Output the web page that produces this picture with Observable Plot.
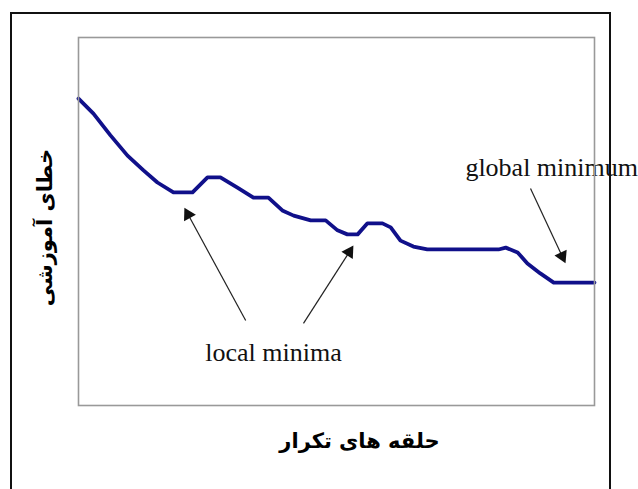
<!DOCTYPE html>
<html><head><meta charset="utf-8">
<script src="https://cdn.jsdelivr.net/npm/d3@7"></script>
<script src="https://cdn.jsdelivr.net/npm/@observablehq/plot@0.6"></script>
<style>body{margin:0;background:#fff}#chart svg{display:block}</style>
</head><body><div id="chart"></div>
<script>
// Training error curve (iteration %, error %)
const iterations = [0,2.9,6.2,9.5,12.6,15.3,18.4,22.1,25.0,27.5,30.8,33.9,36.8,39.5,41.7,45.0,47.9,50.2,52.1,54.1,56.0,58.9,60.5,62.4,64.9,67.6,81.4,82.8,85.1,87.0,89.5,92.1,100];
const errors =     [83.4,79.3,73.4,67.9,63.9,60.6,57.9,57.9,62.0,62.0,59.2,56.5,56.5,53.0,51.6,50.3,50.3,47.6,46.5,46.5,49.5,49.5,48.4,44.8,43.2,42.4,42.4,42.9,41.6,38.6,35.9,33.4,33.4];
// Annotation arrows (tail -> head)
const arrowTailX = [32.4, 43.6, 87.6];
const arrowTailY = [23.1, 22.3, 59.0];
const arrowHeadX = [20.5, 53.3, 94.4];
const arrowHeadY = [53.8, 43.5, 38.6];
// Annotation labels
const annotationText = ["local minima", "global minimum"];
const annotationX = [37.8, 91.7];
const annotationY = [14.4, 64.7];
const xTitle = "حلقه های تکرار";
const yTitle = "خطای آموزشی";

const curve = iterations.map((x, i) => ({x, y: errors[i]}));
const labels = annotationText.map((t, i) => ({t, x: annotationX[i], y: annotationY[i]}));

const W = 638, H = 489;
const baseOpts = {
  width: W, height: H,
  marginLeft: 78, marginRight: 44, marginTop: 37, marginBottom: 84,
  x: {domain: [0, 100], axis: null},
  y: {domain: [0, 100], axis: null},
  style: {background: "#fff", overflow: "visible"}
};

// first pass to get the scales
const probe = Plot.plot({...baseOpts, marks: [Plot.dot(curve, {x: "x", y: "y"})]});
const xs = probe.scale("x"), ys = probe.scale("y");
const X = d3.scaleLinear(xs.domain, xs.range);
const Y = d3.scaleLinear(ys.domain, ys.range);

const headLen = 12;
const arrowMarks = [];
arrowTailX.forEach((_, i) => {
  const px1 = X(arrowTailX[i]), py1 = Y(arrowTailY[i]);
  const px2 = X(arrowHeadX[i]), py2 = Y(arrowHeadY[i]);
  const L = Math.hypot(px2 - px1, py2 - py1);
  const ux = (px2 - px1) / L, uy = (py2 - py1) / L;
  const ang = Math.atan2(ux, -uy) * 180 / Math.PI;
  const shaft = [{x1: arrowTailX[i], y1: arrowTailY[i],
    x2: X.invert(px2 - ux * (headLen - 2)), y2: Y.invert(py2 - uy * (headLen - 2))}];
  arrowMarks.push(Plot.link(shaft, {x1: "x1", y1: "y1", x2: "x2", y2: "y2", stroke: "#222", strokeWidth: 1.2}));
  arrowMarks.push(Plot.dot([{x: arrowHeadX[i], y: arrowHeadY[i]}], {
    x: "x", y: "y", symbol: "triangle", r: 5, rotate: ang,
    dx: -ux * 8, dy: -uy * 8, fill: "#111", stroke: "none"
  }));
});

const chart = Plot.plot({
  ...baseOpts,
  marks: [
    Plot.line(curve, {x: "x", y: "y", stroke: "#10108a", strokeWidth: 3.8, strokeLinejoin: "round"}),
    ...arrowMarks,
    Plot.text(labels, {x: "x", y: "y", text: "t", fontFamily: "Liberation Serif", fontSize: 26, fill: "#111"}),
    Plot.text([xTitle], {frameAnchor: "bottom", textAnchor: "middle", dx: 23, dy: 42, text: d => d, fontFamily: "DejaVu Sans", fontWeight: "bold", fontSize: 21, fill: "#000"}),
    Plot.text([yTitle], {frameAnchor: "left", textAnchor: "middle", dx: -33, dy: 6, rotate: -90, text: d => d, fontFamily: "DejaVu Sans", fontWeight: "bold", fontSize: 21, fill: "#000"}),
    Plot.frame({stroke: "#999", strokeWidth: 1.6})
  ]
});
d3.select(chart).append("rect")
  .attr("x", 11).attr("y", 13).attr("width", 599).attr("height", 500)
  .attr("fill", "none").attr("stroke", "#111").attr("stroke-width", 2);
document.getElementById("chart").appendChild(chart);
</script>
</body></html>
